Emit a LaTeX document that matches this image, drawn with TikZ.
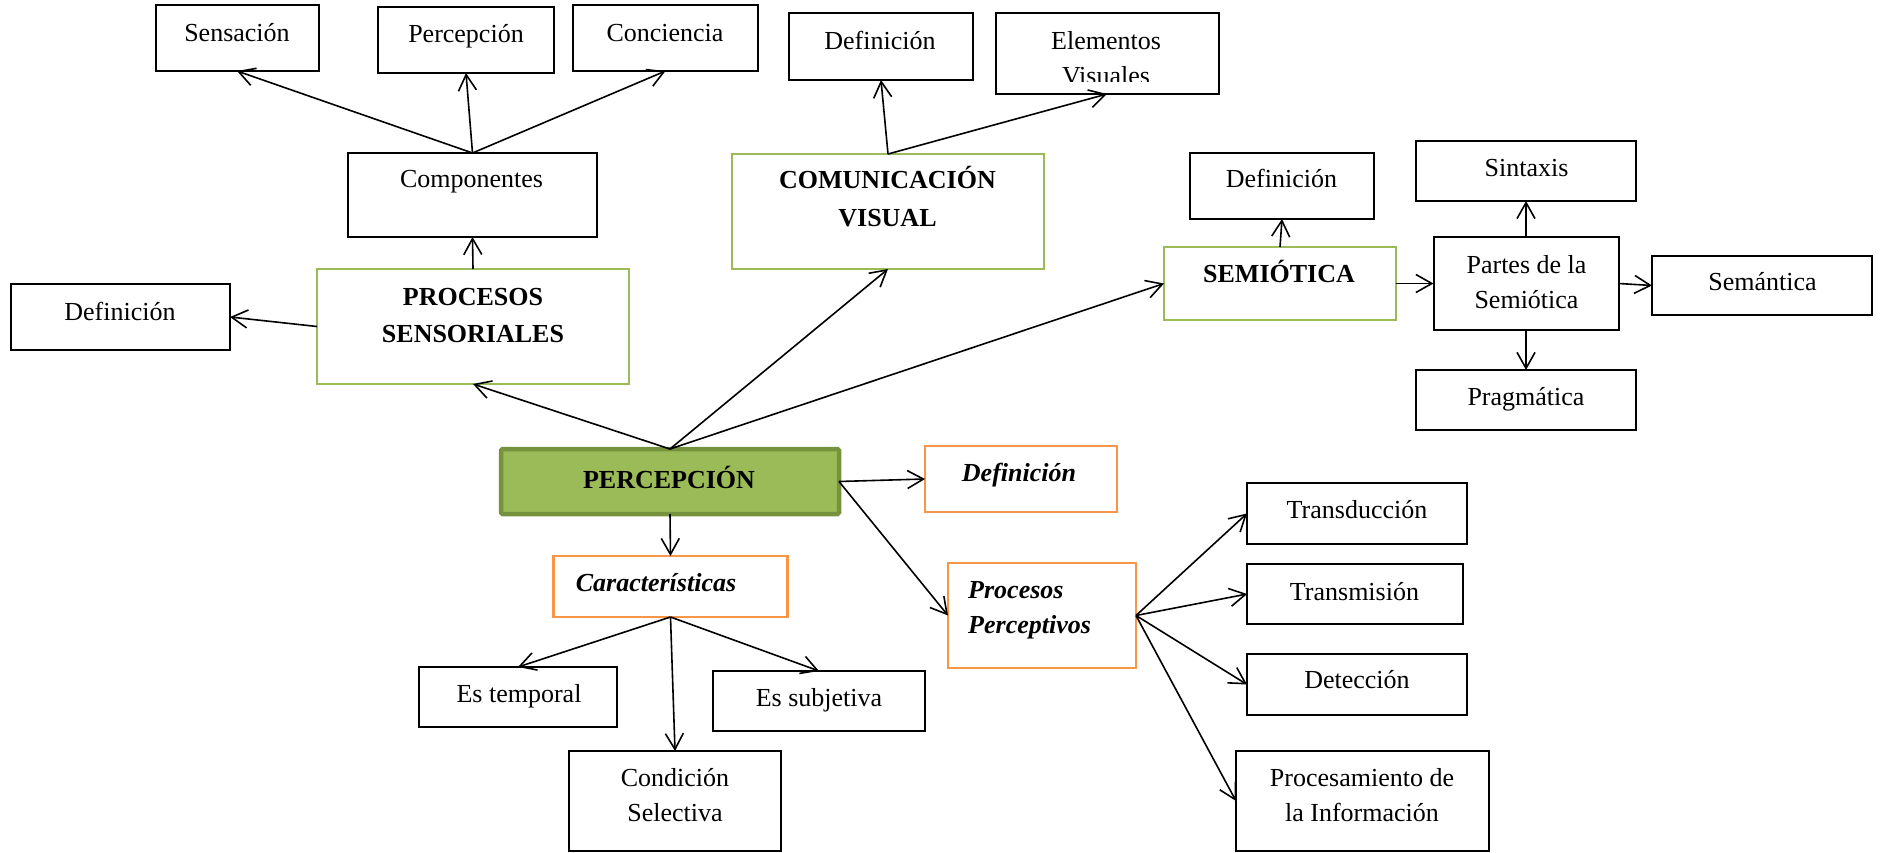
\documentclass[tikz,border=0pt]{standalone}
\usepackage{fontspec}
\setmainfont{Liberation Serif}
\usetikzlibrary{arrows.meta}
\definecolor{gborder}{HTML}{9BBB59}
\definecolor{gfill}{HTML}{9BBB59}
\definecolor{gdark}{HTML}{76923C}
\definecolor{oborder}{HTML}{F79646}
\tikzset{
  bx/.style={draw=black, line width=2pt, inner sep=0pt, outer sep=0pt, fill=white},
  gbx/.style={draw=gborder, line width=2.5pt, inner sep=0pt, outer sep=0pt, fill=white},
  obx/.style={draw=oborder, line width=2.4pt, inner sep=0pt, outer sep=0pt, fill=white},
  pbx/.style={draw=gdark, fill=gfill, line width=4.5pt, rounded corners=1.5pt, inner sep=0pt, outer sep=0pt},
  txt/.style={font=\fontsize{26}{32}\selectfont, inner sep=0pt, anchor=base},
  btxt/.style={txt, font=\fontsize{26}{32}\selectfont\bfseries},
  bitxt/.style={txt, font=\fontsize{26}{32}\selectfont\bfseries\itshape},
  arr/.style={draw=black, line width=1.6pt, -{Straight Barb[length=16pt,width=18pt,line width=1.6pt]}},
}
\begin{document}
\begin{tikzpicture}[x=1pt,y=-1pt]
\useasboundingbox[fill=white] (0,0) rectangle (1885,853);
% boxes
\node[bx, minimum width=163pt, minimum height=66pt] (sens) at (237,38) {};
\node[bx, minimum width=176pt, minimum height=66pt] (perc) at (466,40) {};
\node[bx, minimum width=185pt, minimum height=66pt] (conc) at (665.5,38) {};
\node[bx, minimum width=184pt, minimum height=67pt] (defcv) at (881,46.5) {};
\node[bx, minimum width=223pt, minimum height=81pt] (elem) at (1107,53.5) {};
\node[bx, minimum width=249pt, minimum height=84pt] (comp) at (472.5,195) {};
\node[gbx, minimum width=312pt, minimum height=115pt] (comvis) at (888,211.5) {};
\node[gbx, minimum width=312pt, minimum height=115pt] (procsens) at (473,326.5) {};
\node[bx, minimum width=219pt, minimum height=66pt] (defl) at (120.5,317) {};
\node[gbx, minimum width=232pt, minimum height=73pt] (semio) at (1280,283.5) {};
\node[bx, minimum width=184.5pt, minimum height=66pt] (defsem) at (1282,186) {};
\node[bx, minimum width=220pt, minimum height=60pt] (sint) at (1526,171) {};
\node[bx, minimum width=185pt, minimum height=93pt] (partes) at (1526,283.5) {};
\node[bx, minimum width=220pt, minimum height=59pt] (seman) at (1762,285.5) {};
\node[bx, minimum width=220pt, minimum height=60pt] (prag) at (1526,400) {};
\node[pbx, minimum width=338pt, minimum height=65pt] (percep) at (670,481.5) {};
\node[obx, minimum width=234pt, minimum height=61pt] (carac) at (670.5,586.5) {};
\node[bx, minimum width=197.5pt, minimum height=60pt] (estemp) at (518,697) {};
\node[bx, minimum width=212pt, minimum height=60pt] (essubj) at (819,701) {};
\node[bx, minimum width=211.5pt, minimum height=100pt] (cond) at (675,801) {};
\node[obx, minimum width=192pt, minimum height=66pt] (deforg) at (1021,479) {};
\node[obx, minimum width=188pt, minimum height=105pt] (procperc) at (1042,615.5) {};
\node[bx, minimum width=220pt, minimum height=61pt] (transd) at (1357,513.5) {};
\node[bx, minimum width=215.6pt, minimum height=60pt] (transm) at (1355,594) {};
\node[bx, minimum width=220pt, minimum height=61pt] (detec) at (1357,684.5) {};
\node[bx, minimum width=253pt, minimum height=100pt] (procinf) at (1362.5,801) {};
% texts
\node[txt] (sensT) at (237,41.5) {Sensación};
\node[txt] (percT) at (466,43) {Percepción};
\node[txt] (concT) at (665,41.5) {Conciencia};
\node[txt] (defcvT) at (880,50) {Definición};
\node[txt] (elemT1) at (1106,50) {Elementos};
\begin{scope}
\clip (996,13) rectangle (1219,82);
\node[txt] (elemT2) at (1106,84.5) {Visuales};
\end{scope}
\node[txt] (compT) at (471.5,188) {Componentes};
\node[btxt] (comvisT1) at (887.5,189) {COMUNICACIÓN};
\node[btxt] (comvisT2) at (887.5,226) {VISUAL};
\node[btxt] (procsensT1) at (473,305) {PROCESOS};
\node[btxt] (procsensT2) at (473,342) {SENSORIALES};
\node[txt] (deflT) at (120,320) {Definición};
\node[btxt] (semioT) at (1279,283) {SEMIÓTICA};
\node[txt] (defsemT) at (1281.5,188) {Definición};
\node[txt] (sintT) at (1526.5,177) {Sintaxis};
\node[txt] (partesT1) at (1526.5,273) {Partes de la};
\node[txt] (partesT2) at (1526.5,308) {Semiótica};
\node[txt] (semanT) at (1762.5,290) {Semántica};
\node[txt] (pragT) at (1526,405) {Pragmática};
\node[btxt] (percepT) at (669,488) {PERCEPCIÓN};
\node[bitxt] (caracT) at (656,591.5) {Características};
\node[txt] (estempT) at (519,702.5) {Es temporal};
\node[txt] (essubjT) at (819,706) {Es subjetiva};
\node[txt] (condT1) at (675,786.5) {Condición};
\node[txt] (condT2) at (675,821) {Selectiva};
\node[bitxt] (deforgT) at (1019,481) {Definición};
\node[bitxt, anchor=base west] (procpercT1) at (968,598) {Procesos};
\node[bitxt, anchor=base west] (procpercT2) at (968,633) {Perceptivos};
\node[txt] (transdT) at (1357,518) {Transducción};
\node[txt] (transmT) at (1354.5,600) {Transmisión};
\node[txt] (detecT) at (1357,688) {Detección};
\node[txt] (procinfT1) at (1362,786.5) {Procesamiento de};
\node[txt] (procinfT2) at (1362,821) {la Información};
% connectors
\draw[arr] (comp.north) -- (sens.south);
\draw[arr] (comp.north) -- (perc.south);
\draw[arr] (comp.north) -- (conc.south);
\draw[arr] (procsens.north) -- (comp.south);
\draw[arr] (procsens.west) -- (defl.east);
\draw[arr] (comvis.north) -- (defcv.south);
\draw[arr] (comvis.north) -- (elem.south);
\draw[arr] (percep.north) -- (procsens.south);
\draw[arr] (percep.north) -- (comvis.south);
\draw[arr] (percep.north) -- (semio.west);
\draw[arr] (semio.north) -- (defsem.south);
\draw[arr] (semio.east) -- (partes.west);
\draw[arr] (partes.north) -- (sint.south);
\draw[arr] (partes.east) -- (seman.west);
\draw[arr] (partes.south) -- (prag.north);
\draw[arr] (percep.south) -- (carac.north);
\draw[arr] (carac.south) -- (estemp.north);
\draw[arr] (carac.south) -- (cond.north);
\draw[arr] (carac.south) -- (essubj.north);
\draw[arr] (percep.east) -- (deforg.west);
\draw[arr] (percep.east) -- (procperc.west);
\draw[arr] (procperc.east) -- (transd.west);
\draw[arr] (procperc.east) -- (transm.west);
\draw[arr] (procperc.east) -- (detec.west);
\draw[arr] (procperc.east) -- (procinf.west);
\end{tikzpicture}
\end{document}
